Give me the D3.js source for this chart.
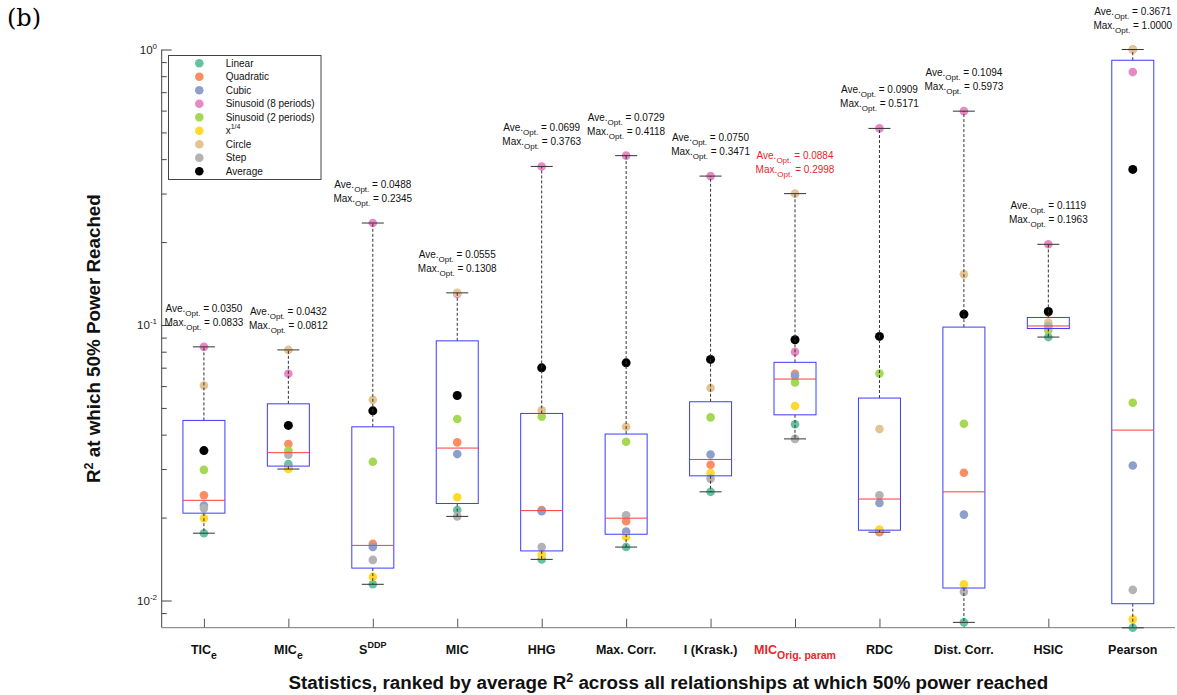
<!DOCTYPE html>
<html>
<head>
<meta charset="utf-8">
<script src="https://cdn.jsdelivr.net/npm/d3@7"></script>
<style>
  html, body { margin: 0; padding: 0; background: #fff; }
  svg { display: block; font-family: "Liberation Sans", Arial, sans-serif; }
</style>
</head>
<body>
<svg id="chart" width="1177" height="695"></svg>
<script>
// ---------------- DATA ----------------
const categories = ["TIC_e","MIC_e","S_DDP","MIC","HHG","Max. Corr.","I (Krask.)","MIC_Orig","RDC","Dist. Corr.","HSIC","Pearson"];
const catMain = ["TIC","MIC","S","MIC","HHG","Max. Corr.","I (Krask.)","MIC","RDC","Dist. Corr.","HSIC","Pearson"];
const catSub  = ["e","e","","","","","","Orig. param","","","",""];
const catSup  = ["","","DDP","","","","","","","","",""];
const highlightIndex = 7;

const seriesNames = ["Linear","Quadratic","Cubic","Sinusoid (8 periods)","Sinusoid (2 periods)","x^1/4","Circle","Step"];
const seriesColors = ["#66c2a5","#fc8d62","#8da0cb","#e78ac3","#a6d854","#ffd92f","#e5c494","#b3b3b3"];

const linear    = [0.01755,0.0313,0.01145,0.0213,0.0141,0.01563,0.0248,0.0436,0.0179,0.00833,0.0904,0.00796];
const quadratic = [0.0241,0.0370,0.01605,0.0375,0.0213,0.0194,0.0311,0.0665,0.0177,0.0291,0.1110,1.0];
const cubic     = [0.0221,0.0302,0.01565,0.0340,0.0211,0.0178,0.0339,0.0654,0.0226,0.0205,0.0994,0.0309];
const sin8      = [0.0833,0.0665,0.2345,0.1296,0.3763,0.4118,0.3471,0.0799,0.5171,0.5973,0.1963,0.828];
const sin2      = [0.0298,0.0350,0.0319,0.0456,0.0465,0.0377,0.0462,0.0619,0.0667,0.0438,0.0957,0.0522];
const xQuarter  = [0.0199,0.0300,0.01218,0.0237,0.01464,0.0170,0.0290,0.0508,0.0181,0.01145,0.0985,0.00854];
const circle    = [0.0603,0.0812,0.0535,0.1308,0.0490,0.0427,0.0591,0.2998,0.0419,0.1527,0.1020,1.0];
const step      = [0.0216,0.0338,0.01404,0.0202,0.01563,0.0204,0.0277,0.0386,0.0241,0.01075,0.0990,0.01093];
const aveOpt    = [0.0350,0.0432,0.0488,0.0555,0.0699,0.0729,0.0750,0.0884,0.0909,0.1094,0.1119,0.3671];
const maxOpt    = [0.0833,0.0812,0.2345,0.1308,0.3763,0.4118,0.3471,0.2998,0.5171,0.5973,0.1963,1.0000];

const yMajorTicks = [1, 0.1, 0.01];
const yMajorExp = ["0","-1","-2"];

const xTitleMain = "Statistics, ranked by average R";
const xTitleRest = " across all relationships at which 50% power reached";
const yTitleMain = "R";
const yTitleRest = " at which 50% Power Reached";

// ---------------- LAYOUT ----------------
const svg = d3.select("#chart");
const axisLeftX = 161.7, axisRightX = 1175, axisTopY = 49.5, axisBottomY = 627.7;

const x = d3.scalePoint().domain(categories).range([axisLeftX, axisRightX]).padding(0.5);
const y = d3.scaleLog().domain([1, 0.01]).range([axisTopY, 600.5]);

const allSeries = [linear, quadratic, cubic, sin8, sin2, xQuarter, circle, step];

function matlabPrctile(sorted, p) {
  const n = sorted.length;
  const pos = n * p + 0.5; // 1-based
  if (pos <= 1) return sorted[0];
  if (pos >= n) return sorted[n - 1];
  const lo = Math.floor(pos), f = pos - lo;
  return sorted[lo - 1] + f * (sorted[lo] - sorted[lo - 1]);
}

// (b) label
svg.append("text").attr("x", 7).attr("y", 26)
  .attr("font-family", "'DejaVu Serif', 'Liberation Serif', serif")
  .attr("font-size", 24).text("(b)");

// Axes
const gY = svg.append("g").attr("transform", `translate(${axisLeftX},0)`);
const minorTicks = [];
[1, 0.1, 0.01].forEach(d => { for (let k = 2; k <= 9; k++) { const v = d * k / 10; if (y(v) < axisBottomY - 1) minorTicks.push(v); } });
gY.call(d3.axisLeft(y).tickValues(minorTicks).tickSize(-5).tickSizeOuter(0).tickFormat(""));
gY.append("g").call(d3.axisLeft(y).tickValues(yMajorTicks).tickSize(-10).tickSizeOuter(0).tickFormat(""));
gY.selectAll(".domain").remove();
gY.selectAll("line").attr("stroke", "#444");
svg.append("line").attr("x1", axisLeftX).attr("x2", axisLeftX).attr("y1", axisTopY).attr("y2", axisBottomY).attr("stroke", "#444");

yMajorTicks.forEach((v, i) => {
  const t = svg.append("text").attr("x", 157).attr("y", y(v) + 4).attr("text-anchor", "end").attr("font-size", 11.5).attr("fill", "#222");
  t.append("tspan").text("10");
  t.append("tspan").attr("dy", -5).attr("font-size", 8).text(yMajorExp[i]);
});

const gX = svg.append("g").attr("transform", `translate(0,${axisBottomY})`);
gX.call(d3.axisBottom(x).tickSize(-9).tickSizeOuter(0).tickFormat(""));
gX.select(".domain").remove();
gX.selectAll("line").attr("stroke", "#555");
svg.append("line").attr("x1", axisLeftX).attr("x2", axisRightX).attr("y1", axisBottomY).attr("y2", axisBottomY).attr("stroke", "#777");

// category labels
categories.forEach((c, i) => {
  const t = svg.append("text").attr("x", x(c)).attr("y", 654).attr("text-anchor", "middle")
    .attr("font-size", 12.5).attr("font-weight", "bold")
    .attr("fill", i === highlightIndex ? "#e8262a" : "#111");
  t.append("tspan").text(catMain[i]);
  if (catSub[i]) {
    t.append("tspan").attr("dy", 5).attr("font-size", 10.5).text(catSub[i]);
  }
  if (catSup[i]) {
    t.append("tspan").attr("dy", -6).attr("font-size", 9).text(catSup[i]);
  }
});

// titles
const xt = svg.append("text").attr("x", (axisLeftX + axisRightX) / 2).attr("y", 689).attr("text-anchor", "middle")
  .attr("font-size", 18.8).attr("font-weight", "bold").attr("fill", "#111");
xt.append("tspan").text(xTitleMain);
xt.append("tspan").attr("dy", -7).attr("font-size", 12.5).text("2");
xt.append("tspan").attr("dy", 7).text(xTitleRest);

const yt = svg.append("text").attr("transform", `translate(100,${(axisTopY + axisBottomY) / 2}) rotate(-90)`)
  .attr("text-anchor", "middle").attr("font-size", 18.8).attr("font-weight", "bold").attr("fill", "#111");
yt.append("tspan").text(yTitleMain);
yt.append("tspan").attr("dy", -7).attr("font-size", 12.5).text("2");
yt.append("tspan").attr("dy", 7).text(yTitleRest);

// dots
const gDots = svg.append("g");
categories.forEach((c, i) => {
  allSeries.forEach((s, k) => {
    gDots.append("circle").attr("cx", x(c)).attr("cy", y(s[i])).attr("r", 4.3)
      .attr("fill", seriesColors[k]);
  });
  gDots.append("circle").attr("cx", x(c)).attr("cy", y(aveOpt[i])).attr("r", 4.5).attr("fill", "#000");
});

// boxes
const halfBox = 21, halfCap = 11;
const gBox = svg.append("g");
categories.forEach((c, i) => {
  const vals = allSeries.map(s => s[i]).sort((a, b) => a - b);
  const q1 = matlabPrctile(vals, 0.25), med = matlabPrctile(vals, 0.5), q3 = matlabPrctile(vals, 0.75);
  const mn = vals[0], mx = vals[vals.length - 1];
  const cx = x(c);
  gBox.append("line").attr("x1", cx).attr("x2", cx).attr("y1", y(q3)).attr("y2", y(mx))
    .attr("stroke", "#333").attr("stroke-dasharray", "3,2");
  gBox.append("line").attr("x1", cx).attr("x2", cx).attr("y1", y(q1)).attr("y2", y(mn))
    .attr("stroke", "#333").attr("stroke-dasharray", "3,2");
  gBox.append("line").attr("x1", cx - halfCap).attr("x2", cx + halfCap).attr("y1", y(mx)).attr("y2", y(mx)).attr("stroke", "#333");
  gBox.append("line").attr("x1", cx - halfCap).attr("x2", cx + halfCap).attr("y1", y(mn)).attr("y2", y(mn)).attr("stroke", "#333");
  gBox.append("rect").attr("x", cx - halfBox).attr("y", y(q3)).attr("width", 2 * halfBox).attr("height", y(q1) - y(q3))
    .attr("fill", "none").attr("stroke", "#3c3cff");
  gBox.append("line").attr("x1", cx - halfBox).attr("x2", cx + halfBox).attr("y1", y(med)).attr("y2", y(med)).attr("stroke", "#ff3a3a");

  // annotations
  const col = i === highlightIndex ? "#e8262a" : "#111";
  const ym = y(maxOpt[i]);
  const t1 = svg.append("text").attr("x", cx).attr("y", ym - 35).attr("text-anchor", "middle").attr("font-size", 10).attr("fill", col);
  t1.append("tspan").text("Ave.");
  t1.append("tspan").attr("dy", 4).attr("font-size", 8).text("Opt.");
  t1.append("tspan").attr("dy", -4).text(" = " + aveOpt[i].toFixed(4));
  const t2 = svg.append("text").attr("x", cx).attr("y", ym - 21).attr("text-anchor", "middle").attr("font-size", 10).attr("fill", col);
  t2.append("tspan").text("Max.");
  t2.append("tspan").attr("dy", 4).attr("font-size", 8).text("Opt.");
  t2.append("tspan").attr("dy", -4).text(" = " + maxOpt[i].toFixed(4));
});

// legend
const lg = svg.append("g");
lg.append("rect").attr("x", 168.5).attr("y", 55.5).attr("width", 152.5).attr("height", 124)
  .attr("fill", "#fff").attr("stroke", "#444");
const legNames = seriesNames.concat(["Average"]);
const legColors = seriesColors.concat(["#000"]);
legNames.forEach((n, i) => {
  const cy = 63.3 + i * 13.5;
  lg.append("circle").attr("cx", 199.3).attr("cy", cy).attr("r", 4.3).attr("fill", legColors[i]);
  const t = lg.append("text").attr("x", 225.7).attr("y", cy + 3.6).attr("font-size", 10).attr("fill", "#111");
  if (n === "x^1/4") {
    t.append("tspan").text("x");
    t.append("tspan").attr("dy", -5).attr("font-size", 7).text("1/4");
  } else {
    t.text(n);
  }
});
</script>
</body>
</html>
